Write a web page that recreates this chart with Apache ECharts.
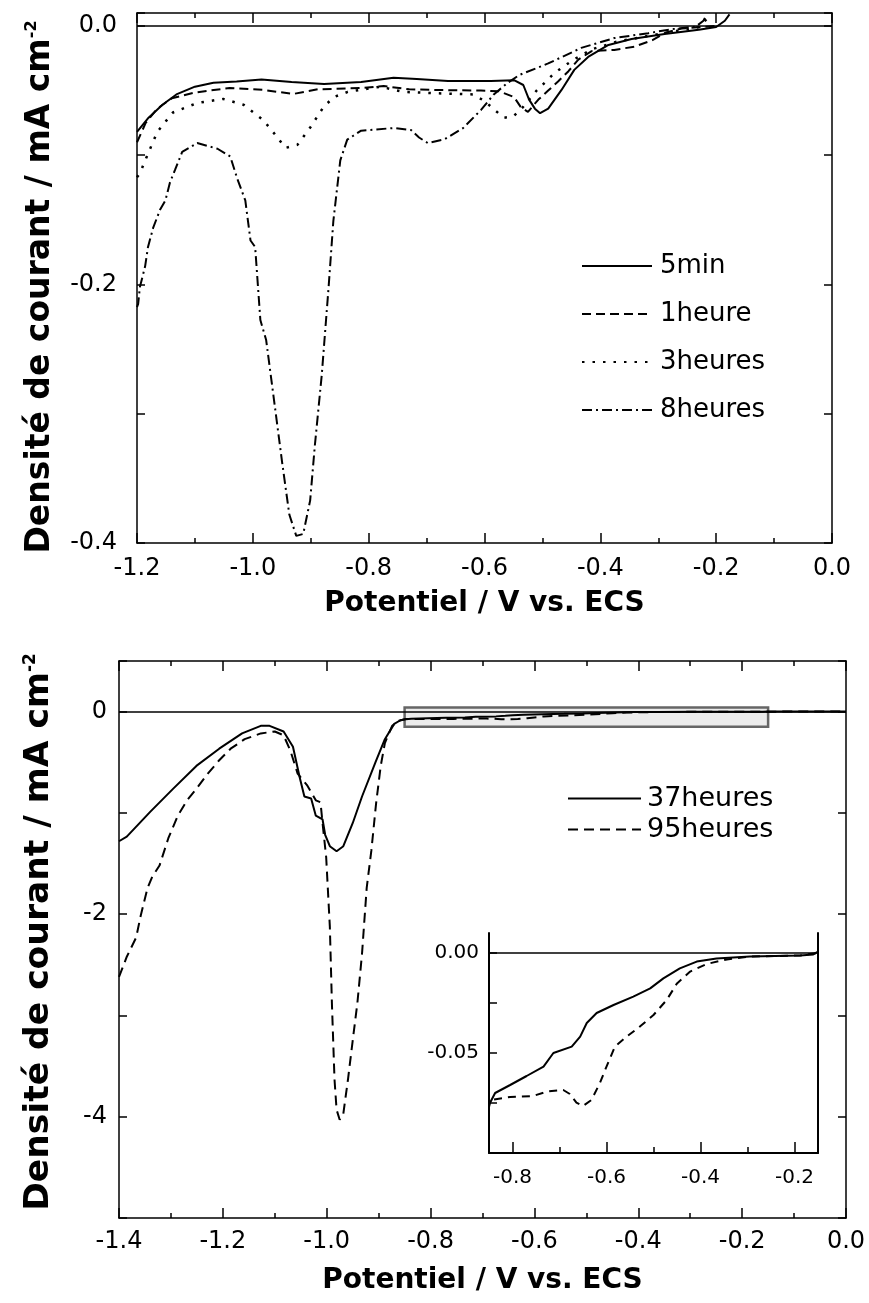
<!DOCTYPE html>
<html><head><meta charset="utf-8">
<script src="https://cdn.jsdelivr.net/npm/echarts@6/dist/echarts.min.js"></script>
<style>html,body{margin:0;padding:0;background:#fff}#c{width:869px;height:1303px}</style>
</head><body><div id="c"></div>
<script>
// ---------- DATA ----------
const topSeriesNames = ['5min', '1heure', '3heures', '8heures'];
const s5min = [[-1.2,-0.082],[-1.18,-0.071],[-1.156,-0.061],[-1.132,-0.053],[-1.1,-0.047],[-1.068,-0.044],[-1.028,-0.043],[-0.985,-0.0415],[-0.933,-0.0434],[-0.877,-0.045],[-0.813,-0.0434],[-0.757,-0.040],[-0.717,-0.041],[-0.663,-0.0426],[-0.589,-0.0426],[-0.549,-0.042],[-0.533,-0.0457],[-0.523,-0.057],[-0.513,-0.064],[-0.504,-0.0675],[-0.49,-0.064],[-0.467,-0.0495],[-0.445,-0.034],[-0.421,-0.024],[-0.386,-0.0147],[-0.346,-0.0101],[-0.289,-0.0062],[-0.23,-0.003],[-0.2,-0.0008],[-0.185,0.004],[-0.177,0.009]];
const s1heure = [[-1.2,-0.09],[-1.185,-0.075],[-1.165,-0.064],[-1.14,-0.056],[-1.1,-0.0515],[-1.04,-0.048],[-0.982,-0.0495],[-0.93,-0.0526],[-0.888,-0.049],[-0.809,-0.048],[-0.774,-0.0465],[-0.73,-0.049],[-0.693,-0.0495],[-0.606,-0.050],[-0.575,-0.0505],[-0.549,-0.055],[-0.537,-0.063],[-0.525,-0.0665],[-0.507,-0.057],[-0.49,-0.05],[-0.473,-0.043],[-0.455,-0.035],[-0.438,-0.026],[-0.415,-0.0195],[-0.376,-0.0186],[-0.341,-0.016],[-0.31,-0.011],[-0.289,-0.0055],[-0.26,-0.002],[-0.2,0]];
const s3heures = [[-1.2,-0.117],[-1.195,-0.114],[-1.183,-0.101],[-1.165,-0.082],[-1.138,-0.067],[-1.096,-0.0596],[-1.051,-0.0565],[-1.016,-0.061],[-0.982,-0.0728],[-0.958,-0.086],[-0.944,-0.0944],[-0.923,-0.092],[-0.9,-0.078],[-0.878,-0.0627],[-0.86,-0.055],[-0.836,-0.051],[-0.78,-0.047],[-0.74,-0.051],[-0.69,-0.052],[-0.62,-0.053],[-0.6,-0.058],[-0.58,-0.066],[-0.566,-0.071],[-0.55,-0.07],[-0.534,-0.063],[-0.51,-0.05],[-0.478,-0.036],[-0.446,-0.026],[-0.414,-0.018],[-0.37,-0.012],[-0.32,-0.008],[-0.27,-0.004],[-0.23,-0.001],[-0.215,0.006]];
const s8heures = [[-1.2,-0.2175],[-1.198,-0.215],[-1.195,-0.202],[-1.186,-0.186],[-1.181,-0.171],[-1.172,-0.156],[-1.16,-0.142],[-1.151,-0.135],[-1.143,-0.121],[-1.134,-0.111],[-1.122,-0.0975],[-1.096,-0.0906],[-1.061,-0.095],[-1.039,-0.101],[-1.027,-0.118],[-1.013,-0.135],[-1.004,-0.166],[-0.996,-0.171],[-0.987,-0.2275],[-0.977,-0.243],[-0.965,-0.284],[-0.949,-0.339],[-0.937,-0.378],[-0.925,-0.3945],[-0.913,-0.393],[-0.901,-0.367],[-0.893,-0.325],[-0.881,-0.27],[-0.869,-0.201],[-0.861,-0.151],[-0.849,-0.104],[-0.837,-0.088],[-0.813,-0.081],[-0.757,-0.079],[-0.727,-0.0805],[-0.713,-0.0863],[-0.698,-0.0906],[-0.669,-0.0877],[-0.637,-0.079],[-0.606,-0.065],[-0.584,-0.053],[-0.56,-0.044],[-0.54,-0.038],[-0.49,-0.029],[-0.433,-0.017],[-0.376,-0.0094],[-0.317,-0.0056],[-0.278,-0.0026],[-0.235,-0.0005],[-0.222,0.004],[-0.218,0.0075]];

const bottomSeriesNames = ['37heures', '95heures'];
const s37heures = [[-1.4,-1.28],[-1.385,-1.234],[-1.34,-0.99],[-1.296,-0.763],[-1.251,-0.536],[-1.207,-0.366],[-1.163,-0.215],[-1.127,-0.14],[-1.11,-0.14],[-1.083,-0.196],[-1.065,-0.347],[-1.052,-0.65],[-1.043,-0.838],[-1.03,-0.857],[-1.021,-1.027],[-1.008,-1.065],[-1.003,-1.216],[-0.994,-1.329],[-0.981,-1.378],[-0.968,-1.329],[-0.95,-1.102],[-0.932,-0.838],[-0.906,-0.498],[-0.888,-0.272],[-0.87,-0.121],[-0.858,-0.085],[-0.848,-0.075],[-0.837,-0.070],[-0.805,-0.066],[-0.77,-0.0615],[-0.734,-0.0568],[-0.713,-0.050],[-0.674,-0.0468],[-0.656,-0.0418],[-0.642,-0.035],[-0.621,-0.030],[-0.585,-0.026],[-0.543,-0.0218],[-0.507,-0.0177],[-0.479,-0.0127],[-0.444,-0.0077],[-0.408,-0.0043],[-0.366,-0.0027],[-0.295,-0.0018],[-0.188,-0.0013],[-0.16,-0.0007],[-0.15,0.0007],[0,0.001]];
const s95heures = [[-1.4,-2.62],[-1.385,-2.42],[-1.367,-2.23],[-1.358,-2.01],[-1.345,-1.74],[-1.336,-1.63],[-1.322,-1.52],[-1.305,-1.25],[-1.287,-1.03],[-1.269,-0.876],[-1.251,-0.763],[-1.229,-0.612],[-1.207,-0.48],[-1.185,-0.366],[-1.158,-0.272],[-1.127,-0.215],[-1.1,-0.196],[-1.083,-0.234],[-1.07,-0.385],[-1.056,-0.612],[-1.038,-0.725],[-1.021,-0.876],[-1.012,-0.895],[-1.008,-1.10],[-1.001,-1.44],[-0.994,-2.12],[-0.99,-2.88],[-0.985,-3.63],[-0.981,-3.93],[-0.975,-4.03],[-0.968,-3.97],[-0.959,-3.63],[-0.95,-3.25],[-0.941,-2.88],[-0.932,-2.39],[-0.923,-1.74],[-0.914,-1.37],[-0.905,-0.91],[-0.896,-0.536],[-0.888,-0.31],[-0.874,-0.14],[-0.861,-0.09],[-0.848,-0.0735],[-0.805,-0.072],[-0.756,-0.0715],[-0.727,-0.0693],[-0.692,-0.0685],[-0.678,-0.0705],[-0.664,-0.0748],[-0.65,-0.0765],[-0.632,-0.0735],[-0.614,-0.065],[-0.6,-0.0568],[-0.582,-0.0468],[-0.557,-0.0418],[-0.529,-0.0368],[-0.5,-0.031],[-0.472,-0.0235],[-0.45,-0.0152],[-0.422,-0.0093],[-0.387,-0.0055],[-0.344,-0.0032],[-0.295,-0.0018],[-0.188,-0.0012],[-0.15,0],[0,0.001]];

// tick / label values
const topYLabelValues = [0, -0.2, -0.4];
const bottomYLabelValues = [0, -2, -4];
const insetXLabelValues = [-0.8, -0.6, -0.4, -0.2];
const insetXMinorValues = [-0.7, -0.5, -0.3];
const insetYLabelValues = [0, -0.05];
const insetYTickValues = [0, -0.025, -0.05, -0.075];
const zoomBox = [[-0.85, 0.04], [-0.15, -0.15]];

// ---------- STYLE ----------
const FONT = 'DejaVu Sans';
const BLACK = '#000';
const lineW = 2;
const axLine = (w) => ({show: true, onZero: false, lineStyle: {color: BLACK, width: w || 1.5}});
const tick = (len, extra) => Object.assign({show: true, inside: true, length: len, lineStyle: {color: BLACK, width: 1.5}}, extra || {});
const noSplit = {show: false};
const fmt1 = v => (Math.abs(v) < 1e-9 ? '0.0' : v.toFixed(1));
const yTitle = 'Densité de courant / mA cm{sup|-2}';
const titleStyle = (fs, pad) => ({fontFamily: FONT, fontWeight: 'bold', fontSize: fs, color: BLACK, padding: pad,
  rich: {sup: {fontFamily: FONT, fontWeight: 'bold', fontSize: Math.round(fs * 0.48), color: BLACK, verticalAlign: 'top'}}});
const xTitleStyle = {fontFamily: FONT, fontWeight: 'bold', fontSize: 28, color: BLACK};
const labelStyle = (fs, margin, extra) => Object.assign({show: true, fontFamily: FONT, fontSize: fs, color: BLACK, margin: margin}, extra || {});

const chart = echarts.init(document.getElementById('c'), null, {renderer: 'canvas'});

const zeroLine = {silent: true, symbol: ['none', 'none'], label: {show: false},
  lineStyle: {color: BLACK, width: 1.5, type: 'solid'}, data: [{yAxis: 0}]};

const option = {
  animation: false,
  backgroundColor: '#fff',
  grid: [
    {left: 137, top: 13, width: 695, height: 530, show: false},
    {left: 119, top: 661, width: 727, height: 557, show: false},
    {left: 489, top: 933, width: 329, height: 220, show: false}
  ],
  xAxis: [
    {gridIndex: 0, type: 'value', position: 'bottom', min: -1.2, max: 0, interval: 0.2,
      axisLine: axLine(), axisTick: tick(10), minorTick: {show: true, splitNumber: 2, length: 5, lineStyle: {color: BLACK, width: 1.5}},
      axisLabel: labelStyle(24, 14, {formatter: fmt1}), splitLine: noSplit, minorSplitLine: noSplit,
      name: 'Potentiel / V vs. ECS', nameLocation: 'middle', nameGap: 47, nameTextStyle: xTitleStyle},
    {gridIndex: 0, type: 'value', position: 'top', min: -1.2, max: 0, interval: 0.2,
      axisLine: axLine(), axisTick: tick(10), minorTick: {show: true, splitNumber: 2, length: 5, lineStyle: {color: BLACK, width: 1.5}},
      axisLabel: {show: false}, splitLine: noSplit, minorSplitLine: noSplit},
    {gridIndex: 1, type: 'value', position: 'bottom', min: -1.4, max: 0, interval: 0.2,
      axisLine: axLine(), axisTick: tick(10), minorTick: {show: true, splitNumber: 2, length: 5, lineStyle: {color: BLACK, width: 1.5}},
      axisLabel: labelStyle(24, 12, {formatter: fmt1}), splitLine: noSplit, minorSplitLine: noSplit,
      name: 'Potentiel / V vs. ECS', nameLocation: 'middle', nameGap: 49, nameTextStyle: xTitleStyle},
    {gridIndex: 1, type: 'value', position: 'top', min: -1.4, max: 0, interval: 0.2,
      axisLine: axLine(), axisTick: tick(10), minorTick: {show: true, splitNumber: 2, length: 5, lineStyle: {color: BLACK, width: 1.5}},
      axisLabel: {show: false}, splitLine: noSplit, minorSplitLine: noSplit},
    {gridIndex: 2, type: 'value', position: 'bottom', min: -0.85, max: -0.15,
      axisLine: axLine(2), axisTick: tick(11, {customValues: insetXLabelValues}),
      axisLabel: labelStyle(20, 15, {customValues: insetXLabelValues, formatter: v => v.toFixed(1)}), splitLine: noSplit},
    {gridIndex: 2, type: 'value', position: 'bottom', min: -0.85, max: -0.15,
      axisLine: {show: false, onZero: false}, axisTick: tick(6, {customValues: insetXMinorValues}),
      axisLabel: {show: false}, splitLine: noSplit}
  ],
  yAxis: [
    {gridIndex: 0, type: 'value', position: 'left', min: -0.4, max: 0.01, interval: 0.1,
      axisLine: axLine(), axisTick: tick(8),
      axisLabel: labelStyle(24, 20, {customValues: topYLabelValues, formatter: fmt1}), splitLine: noSplit,
      name: yTitle, nameLocation: 'middle', nameGap: 80, nameTextStyle: titleStyle(33, [0, 18, 0, 0])},
    {gridIndex: 0, type: 'value', position: 'right', min: -0.4, max: 0.01, interval: 0.1,
      axisLine: axLine(), axisTick: tick(8), axisLabel: {show: false}, splitLine: noSplit},
    {gridIndex: 1, type: 'value', position: 'left', min: -5, max: 0.5, interval: 1,
      axisLine: axLine(), axisTick: tick(8),
      axisLabel: labelStyle(24, 12, {customValues: bottomYLabelValues, formatter: v => String(Math.round(v) || 0)}), splitLine: noSplit,
      name: yTitle, nameLocation: 'middle', nameGap: 62, nameTextStyle: titleStyle(34.5, [0, 0, 0, 15])},
    {gridIndex: 1, type: 'value', position: 'right', min: -5, max: 0.5, interval: 1,
      axisLine: axLine(), axisTick: tick(8), axisLabel: {show: false}, splitLine: noSplit},
    {gridIndex: 2, type: 'value', position: 'left', min: -0.1, max: 0.01,
      axisLine: axLine(2), axisTick: tick(8, {customValues: insetYTickValues}),
      axisLabel: labelStyle(20, 10, {customValues: insetYLabelValues, formatter: v => v.toFixed(2)}), splitLine: noSplit},
    {gridIndex: 2, type: 'value', position: 'right', min: -0.1, max: 0.01,
      axisLine: axLine(2), axisTick: {show: false}, axisLabel: {show: false}, splitLine: noSplit}
  ],
  legend: [
    {data: topSeriesNames, orient: 'vertical', left: 576, top: 248, itemWidth: 70, itemHeight: 14, itemGap: 22,
      selectedMode: false, itemStyle: {opacity: 0},
      textStyle: {fontFamily: FONT, fontSize: 26, color: BLACK, padding: [0, 0, 0, 3]}},
    {data: bottomSeriesNames, orient: 'vertical', left: 562, top: 780, itemWidth: 73, itemHeight: 14, itemGap: 4,
      selectedMode: false, itemStyle: {opacity: 0},
      textStyle: {fontFamily: FONT, fontSize: 27, color: BLACK, padding: [0, 0, 0, 1]}}
  ],
  series: [
    {name: topSeriesNames[0], type: 'line', xAxisIndex: 0, yAxisIndex: 0, data: s5min, symbol: 'none',
      lineStyle: {color: BLACK, width: lineW, type: 'solid'}, itemStyle: {color: BLACK}, markLine: zeroLine, z: 3},
    {name: topSeriesNames[1], type: 'line', xAxisIndex: 0, yAxisIndex: 0, data: s1heure, symbol: 'none',
      lineStyle: {color: BLACK, width: lineW, type: [9, 5]}, itemStyle: {color: BLACK}},
    {name: topSeriesNames[2], type: 'line', xAxisIndex: 0, yAxisIndex: 0, data: s3heures, symbol: 'none',
      lineStyle: {color: BLACK, width: 2.5, type: [2.5, 8]}, itemStyle: {color: BLACK}},
    {name: topSeriesNames[3], type: 'line', xAxisIndex: 0, yAxisIndex: 0, data: s8heures, symbol: 'none',
      lineStyle: {color: BLACK, width: lineW, type: [10, 4, 2, 4]}, itemStyle: {color: BLACK}},
    {name: bottomSeriesNames[0], type: 'line', xAxisIndex: 2, yAxisIndex: 2, data: s37heures, symbol: 'none',
      lineStyle: {color: BLACK, width: lineW, type: 'solid'}, itemStyle: {color: BLACK}, markLine: zeroLine,
      markArea: {silent: true, itemStyle: {color: 'rgba(150,150,150,0.18)', borderColor: '#666', borderWidth: 2.5},
        data: [[{xAxis: zoomBox[0][0], yAxis: zoomBox[0][1]}, {xAxis: zoomBox[1][0], yAxis: zoomBox[1][1]}]]}},
    {name: bottomSeriesNames[1], type: 'line', xAxisIndex: 2, yAxisIndex: 2, data: s95heures, symbol: 'none',
      lineStyle: {color: BLACK, width: lineW, type: [10, 6]}, itemStyle: {color: BLACK}},
    {name: bottomSeriesNames[0], type: 'line', xAxisIndex: 4, yAxisIndex: 4, data: s37heures, symbol: 'none',
      lineStyle: {color: BLACK, width: lineW, type: 'solid'}, itemStyle: {color: BLACK}, markLine: zeroLine},
    {name: bottomSeriesNames[1], type: 'line', xAxisIndex: 4, yAxisIndex: 4, data: s95heures, symbol: 'none',
      lineStyle: {color: BLACK, width: lineW, type: [8, 6]}, itemStyle: {color: BLACK}}
  ]
};
chart.setOption(option);
</script>
</body></html>
